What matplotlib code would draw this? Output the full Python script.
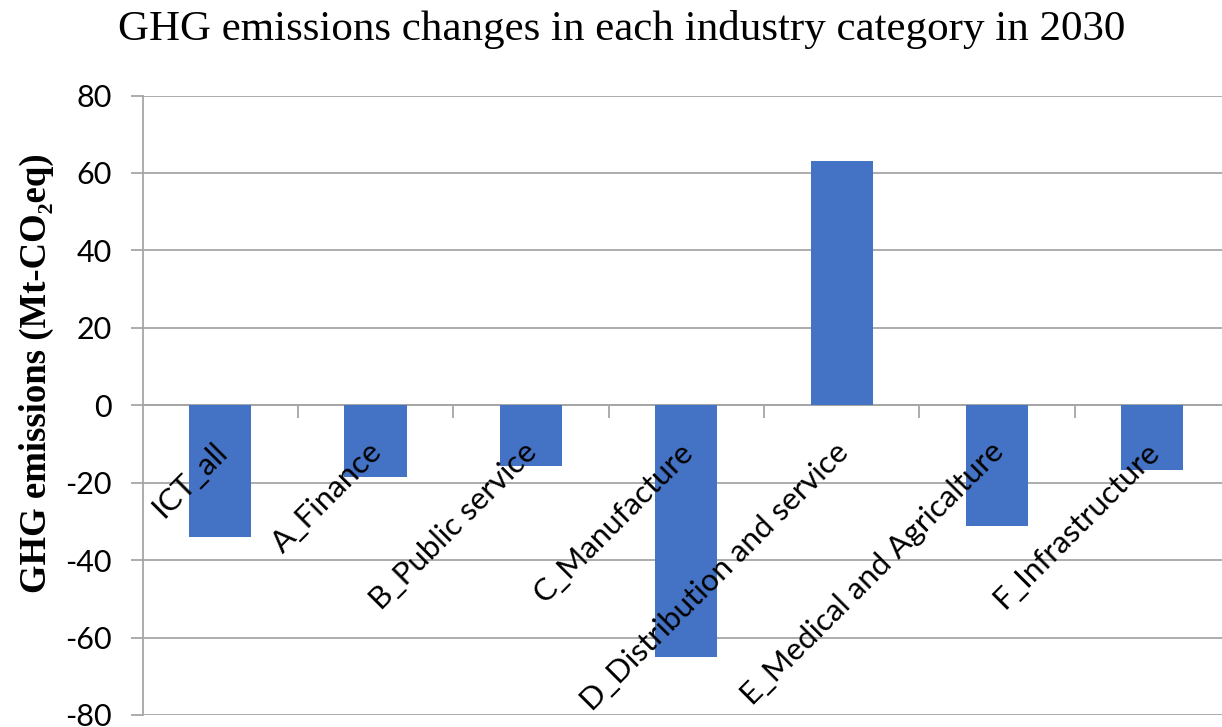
import matplotlib
matplotlib.use('agg')
import matplotlib.pyplot as plt
from matplotlib.transforms import offset_copy

categories = ['ICT_all', 'A_Finance', 'B_Public service', 'C_Manufacture',
              'D_Distribution and service', 'E_Medical and Agricalture', 'F_Infrastructure']
values = [-34.1, -18.5, -15.7, -65.0, 63.0, -31.2, -16.6]
yticks = [-80, -60, -40, -20, 0, 20, 40, 60, 80]

BAR = '#4472C4'
GRID = '#A6A6A6'

fig = plt.figure(figsize=(12.22, 7.27), dpi=100)
# right edge of the plot area is cut off in the original
ax = fig.add_axes([142.5/1222, 1 - 715/727, 1087.5/1222, (715 - 95.5)/727])

x = list(range(len(categories)))
ax.bar(x, values, width=0.4, color=BAR, zorder=3)

ax.set_xlim(-0.5, len(categories) - 0.5)
ax.set_ylim(-80, 80)
ax.set_yticks(yticks)
ax.set_yticklabels([str(v) for v in yticks], family='Lato', fontsize=22)
ax.yaxis.grid(True, color=GRID, linewidth=1.3, zorder=0)
ax.tick_params(axis='y', length=9, width=1.3, color=GRID, pad=13)

# x axis sits on the zero line, ticks between categories
ax.spines['bottom'].set_position(('data', 0))
ax.spines['bottom'].set_color(GRID)
ax.spines['bottom'].set_linewidth(1.3)
ax.set_xticks([i + 0.5 for i in range(len(categories) - 1)])
ax.set_xticklabels([])
ax.tick_params(axis='x', length=9, width=1.3, color=GRID, direction='out')
ax.spines['left'].set_color(GRID)
ax.spines['left'].set_linewidth(1.3)
ax.spines['top'].set_visible(False)
ax.spines['right'].set_visible(False)

trans = offset_copy(ax.transData, fig=fig, x=-8, y=-32, units='dots')
for i, c in enumerate(categories):
    ax.text(i, 0, c, transform=trans, rotation=45, rotation_mode='anchor',
            ha='right', va='top', family='Lato', fontsize=22.5, zorder=4)

fig.text(0.509, 1 - 40/727, 'GHG emissions changes in each industry category in 2030',
         ha='center', va='baseline', family=['Liberation Serif', 'DejaVu Serif'], fontsize=31)
fig.text(0.030, 1 - 373/727, 'GHG emissions (Mt-CO\u2082eq)', rotation=90, ha='center', va='center',
         family=['Liberation Serif', 'DejaVu Serif'], fontweight='bold', fontsize=26.5)

fig.savefig('out.png', dpi=100)
